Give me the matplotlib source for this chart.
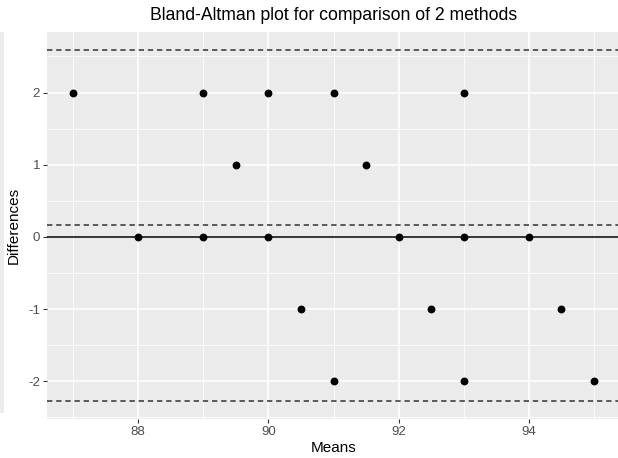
import matplotlib
matplotlib.use("Agg")
import matplotlib.pyplot as plt
from matplotlib.ticker import MultipleLocator

plt.rcParams['font.family'] = ['Liberation Sans', 'DejaVu Sans']
plt.rcParams['axes.unicode_minus'] = False

# Data
means = [87, 88, 89, 89, 89.5, 90, 90, 90.5, 91, 91,
         91.5, 92, 92.5, 93, 93, 93, 94, 94.5, 95]
diffs = [2, 0, 2, 0, 1, 2, 0, -1, 2, -2,
         1, 0, -1, 2, 0, -2, 0, -1, -2]

# Bias and limits of agreement (as drawn)
bias = 0.158
upper_loa = 2.595
lower_loa = -2.28

x_ticks = [88, 90, 92, 94]
y_ticks = [-2, -1, 0, 1, 2]

W, H = 618, 458
fig = plt.figure(figsize=(W / 100, H / 100), dpi=100)

# left panel edge (px) .. right edge runs slightly past the image
left, right, top, bottom = 47, 620, 32, 419
ax = fig.add_axes([left / W, 1 - bottom / H, (right - left) / W, (bottom - top) / H])
ax.set_facecolor('#EBEBEB')
for s in ax.spines.values():
    s.set_visible(False)

ax.set_xticks(x_ticks)
ax.set_yticks(y_ticks)
ax.xaxis.set_minor_locator(MultipleLocator(1))
ax.yaxis.set_minor_locator(MultipleLocator(0.5))
ax.grid(which='major', color='white', linewidth=1.1)
ax.grid(which='minor', color='white', linewidth=0.55)
ax.set_axisbelow(True)
ax.tick_params(which='minor', length=0)
ax.tick_params(which='major', length=3, width=0.8, color='#333333',
               labelcolor='#4D4D4D', labelsize=9.5, pad=2)

# reference lines
ax.axhline(0, color='black', linewidth=1.1)
for v in [upper_loa, bias, lower_loa]:
    ax.axhline(v, color='#333333', linewidth=1.1, linestyle=(0, (3.5, 2.5)))

ax.scatter(means, diffs, s=32, color='black', zorder=3, linewidths=0)

ax.set_xlim(86.6, 95.4)
ymin = min(lower_loa, min(diffs))
ymax = max(upper_loa, max(diffs))
pad = (ymax - ymin) * 0.05
ax.set_ylim(ymin - pad, ymax + pad)

ax.set_xlabel('Means', fontsize=11, color='black', labelpad=2)
ax.set_ylabel('Differences', fontsize=11, color='black', labelpad=5)
fig.text((left + right) / 2 / W, 1 - 15 / H,
         'Bland-Altman plot for comparison of 2 methods',
         ha='center', va='center', fontsize=12.7)

# sliver of a neighbouring panel at the far left
strip = fig.add_axes([0, 1 - 413 / H, 4 / W, (413 - 32) / H])
strip.set_facecolor('#EBEBEB')
for s in strip.spines.values():
    s.set_visible(False)
strip.set_xticks([])
strip.set_yticks([])

fig.savefig('out.png', dpi=100)
